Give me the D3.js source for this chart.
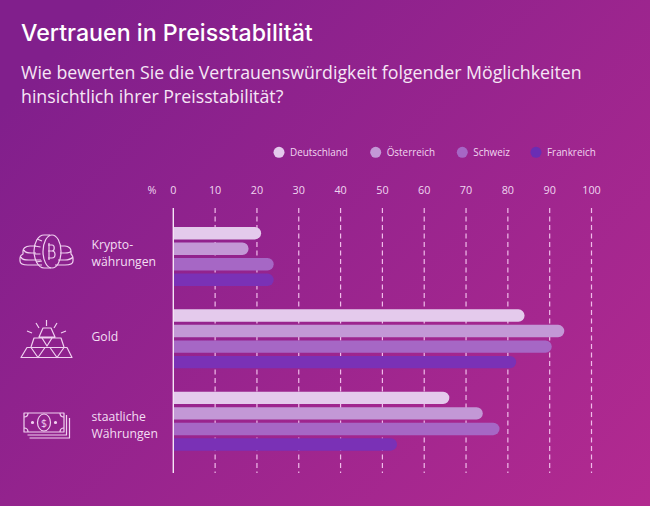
<!DOCTYPE html>
<html>
<head>
<meta charset="utf-8">
<script src="https://cdn.jsdelivr.net/npm/d3@7"></script>
<style>
	html, body { margin: 0; padding: 0; background: #8f2290; }
	svg { display: block; }
	text { font-family: "Open Sans", sans-serif; }
</style>
</head>
<body>
<div id="chart"></div>
<script>
const categories = ["Krypto", "Gold", "staatlich"];
const countries = ["Deutschland", "Österreich", "Schweiz", "Frankreich"];
const deutschland = [21, 84, 66];
const oesterreich = [18, 93.5, 74];
const schweiz = [24, 90.5, 78];
const frankreich = [24, 82, 53.5];
const seriesValues = [deutschland, oesterreich, schweiz, frankreich];
const tickValues = [0, 10, 20, 30, 40, 50, 60, 70, 80, 90, 100];
const categoryLines = [["Krypto-", "währungen"], ["Gold"], ["staatliche", "Währungen"]];

const barColors = ["#e4caec", "#c398d6", "#a667c5", "#7a31b6"];
const legendColors = ["#e4caec", "#c398d6", "#a667c5", "#6a2db4"];
const lineColor = "#f0bcea";

const width = 650, height = 506;

const svg = d3.select("#chart")
	.append("svg")
	.attr("width", width)
	.attr("height", height);

// background gradient
const grad = svg.append("defs").append("linearGradient")
	.attr("id", "bg")
	.attr("gradientUnits", "userSpaceOnUse")
	.attr("x1", 100).attr("y1", 0)
	.attr("x2", 650).attr("y2", 506);
grad.append("stop").attr("offset", "0%").attr("stop-color", "#811f8c");
grad.append("stop").attr("offset", "100%").attr("stop-color", "#b32a90");

svg.append("rect")
	.attr("width", width)
	.attr("height", height)
	.attr("fill", "url(#bg)");

// titles
svg.append("text")
	.attr("x", 21).attr("y", 41)
	.text("Vertrauen in Preisstabilität")
	.style("font-family", "Inter")
	.attr("font-weight", 500)
	.attr("font-size", "23.2px")
	.attr("fill", "#fff");

["Wie bewerten Sie die Vertrauenswürdigkeit folgender Möglichkeiten",
	"hinsichtlich ihrer Preisstabilität?"].forEach(function (t, i) {
	svg.append("text")
		.attr("x", 21).attr("y", 79 + i * 24)
		.text(t)
		.attr("font-size", "17.75px")
		.attr("fill", "#f6e6f6");
});

// scales
const x = d3.scaleLinear().domain([0, 100]).range([173.3, 591.5]);
const yGroup = d3.scaleBand().domain(categories).range([227, 474]).paddingInner(0).paddingOuter(0);
const yBar = d3.scaleBand().domain(countries).range([0, 59]).paddingInner(0.2);

// grid, dashed
svg.selectAll(".grid")
	.data(tickValues.slice(1))
	.join("line")
	.attr("class", "grid")
	.attr("x1", d => x(d)).attr("x2", d => x(d))
	.attr("y1", 208).attr("y2", 473)
	.attr("stroke", lineColor)
	.attr("stroke-width", 1.2)
	.attr("stroke-dasharray", "5 3.5");

// tick labels
svg.selectAll(".tick")
	.data(tickValues)
	.join("text")
	.attr("class", "tick")
	.attr("x", d => x(d))
	.attr("y", 194)
	.attr("text-anchor", "middle")
	.attr("font-size", "10.8px")
	.attr("fill", "#f0d6f0")
	.text(d => d);

svg.append("text")
	.attr("x", 152).attr("y", 194)
	.attr("text-anchor", "middle")
	.attr("font-size", "10.8px")
	.attr("fill", "#f0d6f0")
	.text("%");

// bars, rounded on the right only
function barPath(x0, x1, y0, h) {
	const r = h / 2;
	const p = d3.path();
	p.moveTo(x0, y0);
	p.lineTo(x1 - r, y0);
	p.arc(x1 - r, y0 + r, r, -Math.PI / 2, Math.PI / 2);
	p.lineTo(x0, y0 + h);
	p.closePath();
	return p.toString();
}

countries.forEach(function (country, s) {
	svg.selectAll(".bar" + s)
		.data(seriesValues[s])
		.join("path")
		.attr("class", "bar" + s)
		.attr("fill", barColors[s])
		.attr("d", (d, i) => barPath(x(0), x(d), yGroup(categories[i]) + yBar(country), yBar.bandwidth()));
});

// axis line
svg.append("line")
	.attr("x1", x(0)).attr("x2", x(0))
	.attr("y1", 208).attr("y2", 473)
	.attr("stroke", "#f6e6f6")
	.attr("stroke-width", 1.4);

// legend
const legendDotX = [279, 375.7, 462.3, 536];
countries.forEach(function (c, i) {
	svg.append("circle")
		.attr("cx", legendDotX[i]).attr("cy", 152.3).attr("r", 5.5)
		.attr("fill", legendColors[i]);
	svg.append("text")
		.attr("x", legendDotX[i] + 11).attr("y", 156)
		.attr("font-size", "9.9px")
		.attr("fill", "#f0d6f0")
		.text(c);
});

// category labels
const labelY = [[244, 261], [336], [416, 433]];
categoryLines.forEach(function (lines, i) {
	lines.forEach(function (l, j) {
		svg.append("text")
			.attr("x", 91.5).attr("y", labelY[i][j] + 4.5)
			.attr("font-size", "12.2px")
			.attr("fill", "#f3def3")
			.text(l);
	});
});

// icons
const icons = svg.append("g")
	.attr("fill", "none")
	.attr("stroke", "#f0d0f0")
	.attr("stroke-width", 1.2)
	.attr("stroke-linejoin", "round");

// coins
const coin = icons.append("g");
coin.append("path").attr("d", "M36 246 h-6 c-5 0 -7 3 -7 5 v3 c-2 1 -3 2 -3 4 v3 c0 3 4 4 8 4 h14 M24 250 c1 3 4 3 8 3 h4 M21 257 c1 3 4 3 8 3 h12");
coin.append("path").attr("d", "M60 246 h5 c4 0 6 3 6 5 v3 c1 1 2 2 2 4 v3 c0 3 -4 4 -8 4 h-10 M60 253 h5 c3 0 5 0 6 -2 M58 260 h7 c4 0 6 -1 8 -3");
coin.append("path").attr("d", "M50 235 h-6 c-6 0 -10 8 -10 16 s4 17 10 17 h7");
coin.append("ellipse").attr("cx", 52).attr("cy", 251.5).attr("rx", 9).attr("ry", 16.5);
coin.append("path").attr("d", "M37 239 l5 2 M34.500 246 l6 1 M34.500 254 l6 0 M36 262 l6 -1");
coin.append("path").attr("d", "M48 245 h4 c3 0 3 6 0 6 h-4 M52 251 c4 0 4 7 0 7 h-4 M49 243 v17");

// gold bars
const gold = icons.append("g");
gold.append("path").attr("d", "M39 337 l4 -9 h8 l4 9 z M31 347 l3 -9 h27 l3 9 M21 357.500 l6 -10 h40 l5 10 z");
gold.append("path").attr("d", "M42 338 l5 8 l5 -8 M31 347.500 l7 10 l7 -10 M50 347.500 l7 10 l7 -10");
gold.append("path").attr("d", "M46.500 320 v6 M36 323 l3 5 M57 323 l-3 5 M27 331 l5 2 M66 331 l-5 2");

// money
const money = icons.append("g");
money.append("rect").attr("x", 24).attr("y", 413).attr("width", 40).attr("height", 19);
money.append("path").attr("d", "M66.500 415 v20 h-39 M69.500 418 v20 h-40");
money.append("ellipse").attr("cx", 44).attr("cy", 422.500).attr("rx", 6.500).attr("ry", 8.500);
money.append("path").attr("d", "M24 417 q4 0 4 -4 M60 413 q0 4 4 4 M24 428 q4 0 4 4 M60 432 q0 -4 4 -4");
money.append("circle").attr("cx", 32.500).attr("cy", 422.500).attr("r", 1).attr("fill", "#f0d0f0");
money.append("circle").attr("cx", 55.500).attr("cy", 422.500).attr("r", 1).attr("fill", "#f0d0f0");
money.append("text")
	.attr("x", 44).attr("y", 426.500)
	.attr("text-anchor", "middle")
	.attr("font-size", "10.500px")
	.attr("stroke", "none")
	.attr("fill", "#f0d0f0")
	.text("$");
</script>
</body>
</html>
